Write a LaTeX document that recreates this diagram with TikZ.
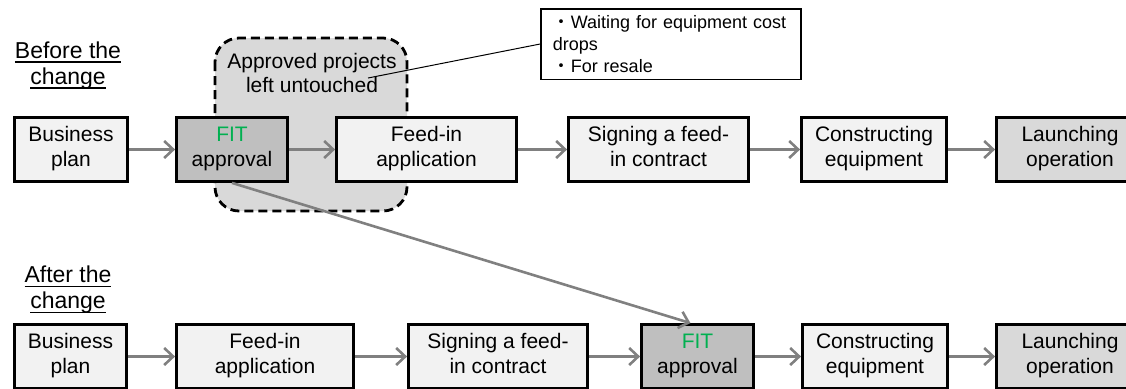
\documentclass[tikz,border=0pt]{standalone}
\usepackage{fontspec}
\setmainfont{Liberation Sans}
\newfontfamily\cjk{Noto Sans CJK JP}
\usetikzlibrary{arrows.meta,calc}
\definecolor{stepF}{RGB}{242,242,242}
\definecolor{fitF}{RGB}{191,191,191}
\definecolor{runF}{RGB}{217,217,217}
\definecolor{flowG}{RGB}{128,128,128}
\definecolor{fitG}{RGB}{0,176,80}
% underline at a fixed depth, through the descenders
\newcommand\undl[1]{\leavevmode\setbox0=\hbox{#1}\rlap{\rule[-2.2pt]{\wd0}{0.75pt}}\box0}

\begin{document}
\begin{tikzpicture}[x=0.5pt,y=-0.5pt,
  stage/.style={draw=black,line width=1.4pt,fill=stepF,align=center,minimum height=32pt,
    inner sep=1pt,font=\fontsize{10.5}{12.5}\selectfont,
    execute at begin node=\rule{0pt}{8.75pt},execute at end node=\rule[-2.75pt]{0pt}{2.75pt}},
  flow/.style={draw=flowG,line width=1.3pt,-{Straight Barb[length=4.5pt,width=8.5pt]}},
  heading/.style={align=center,font=\fontsize{11.5}{13}\selectfont},
  note/.style={draw=black,line width=0.75pt,align=left,text width=118pt,inner xsep=6pt,
    minimum height=34pt,font=\fontsize{9}{11}\selectfont}]
\useasboundingbox (0,0) rectangle (1126,388);
% approved but idle projects
\draw[fill=runF,line width=1.4pt,dash pattern=on 4.5pt off 2.5pt,rounded corners=12pt]
  (215,38) rectangle (407,211);
\node[align=center,font=\fontsize{10.5}{12}\selectfont] (idle) at (312,72.5) {Approved projects\\left untouched};
\coordinate (hook) at (368,78);
\node[note,anchor=north west] (why) at (540,8)
  {\mbox{{\cjk ・}Waiting for equipment cost}\\drops\\{\cjk ・}For resale};
\draw[line width=0.5pt] (hook) -- (why.west);

\node[heading] (before) at (68,65.5) {\undl{Before the}\\\undl{change}};
\node[heading] (after) at (68,290) {\undl{After the}\\\undl{change}};

% old order
\node[stage,minimum width=56.5pt] (old1) at (71,149.5) {Business\\plan};
\node[stage,minimum width=55.5pt,fill=fitF] (old2) at (232,149.5) {\textcolor{fitG}{FIT}\\approval};
\node[stage,minimum width=90pt] (old3) at (426.5,149.5) {Feed-in\\application};
\node[stage,minimum width=90pt] (old4) at (658.5,149.5) {Signing a feed-\\in contract};
\node[stage,minimum width=72.5pt] (old5) at (874,149.5) {Constructing\\equipment};
\node[stage,minimum width=73.5pt,fill=runF] (old6) at (1070,149.5) {Launching\\operation};

% new order
\node[stage,minimum width=56pt] (new1) at (70.5,356.5) {Business\\plan};
\node[stage,minimum width=88.5pt] (new2) at (265,356.5) {Feed-in\\application};
\node[stage,minimum width=89.5pt] (new3) at (498,356.5) {Signing a feed-\\in contract};
\node[stage,minimum width=56pt,fill=fitF] (new4) at (697.5,356.5) {\textcolor{fitG}{FIT}\\approval};
\node[stage,minimum width=72.5pt] (new5) at (875,356.5) {Constructing\\equipment};
\node[stage,minimum width=73.5pt,fill=runF] (new6) at (1070,356.5) {Launching\\operation};

\foreach \i/\j in {1/2,2/3,3/4,4/5,5/6} {
  \draw[flow] (old\i.east) -- (old\j.west);
  \draw[flow] (new\i.east) -- (new\j.west);
}
\draw[flow] (old2.south) -- ([xshift=-3.5pt]new4.north);
\end{tikzpicture}
\end{document}
